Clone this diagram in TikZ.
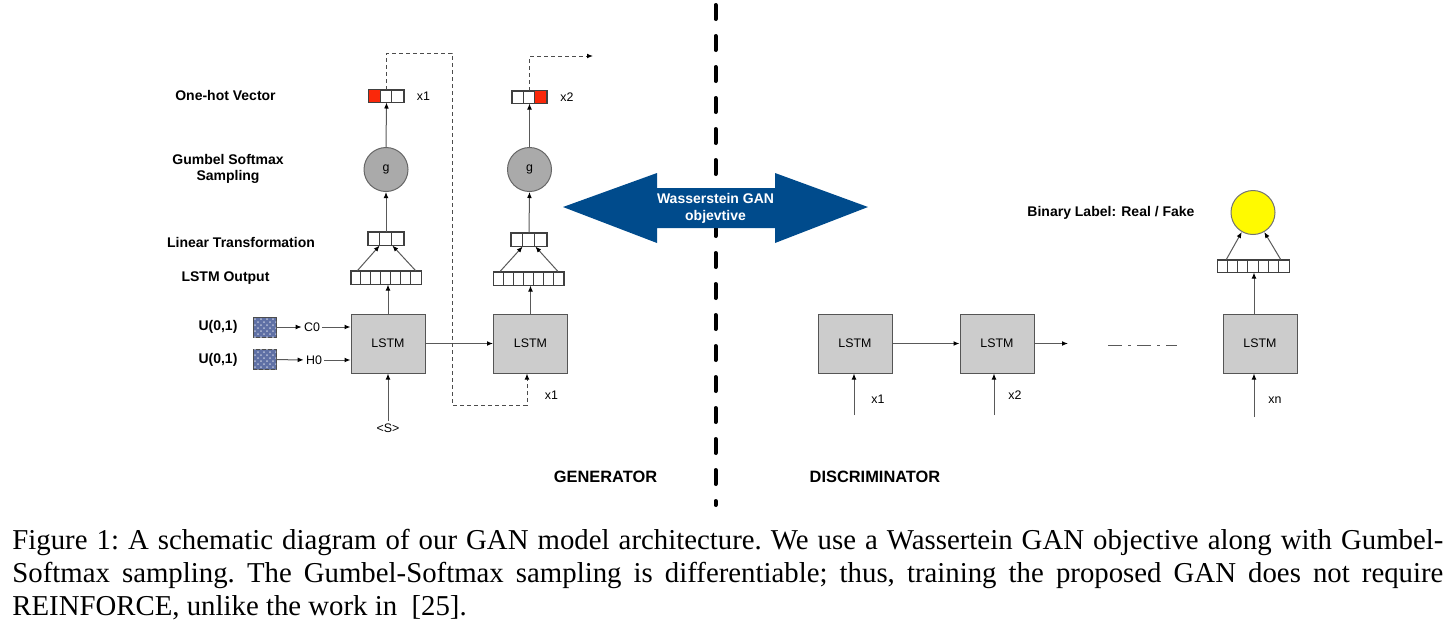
\documentclass[tikz,border=0pt]{standalone}
\usepackage{fontspec}
\setmainfont{Liberation Sans}
\newfontfamily\capfont{Liberation Serif}
\usetikzlibrary{arrows.meta,calc,patterns}
\definecolor{lstmfill}{RGB}{204,204,204}
\definecolor{lstmdraw}{RGB}{85,85,85}
\definecolor{gfill}{RGB}{170,170,170}
\definecolor{hotred}{RGB}{250,40,10}
\definecolor{wblue}{RGB}{0,75,140}
\definecolor{noisecol}{RGB}{95,112,165}
\definecolor{sunyellow}{RGB}{255,250,0}
\tikzset{
  lstmbox/.style={draw=lstmdraw, fill=lstmfill, line width=0.5pt, minimum width=37pt, minimum height=29.5pt, inner sep=0pt, font=\fontsize{6.2}{7}\selectfont},
  gnode/.style={circle, draw=black!60, fill=gfill, line width=0.5pt, minimum size=22pt, inner sep=0pt, font=\fontsize{6.2}{7}\selectfont},
  binnode/.style={circle, draw=black!55, fill=sunyellow, line width=0.5pt, minimum size=22pt, inner sep=0pt},
  lbl/.style={font=\bfseries\fontsize{7}{8.2}\selectfont, align=center, inner sep=0pt},
  biglbl/.style={font=\bfseries\fontsize{8.2}{9}\selectfont, inner sep=0pt},
  txt/.style={font=\fontsize{6.2}{7}\selectfont, inner sep=1pt},
  noise/.style={draw=black!70, fill=noisecol, line width=0.5pt, minimum width=11.5pt, minimum height=10pt, inner sep=0pt,
     postaction={pattern=crosshatch dots, pattern color=white!55!noisecol}},
  cellbox/.style={draw=black!75, fill=white, line width=0.5pt, inner sep=0pt},
  cellline/.style={draw=black!75, line width=0.5pt},
  arr/.style={-{Latex[length=3pt,width=2.4pt,color=black]}, draw=black!65, line width=0.5pt},
  fb/.style={arr, dash pattern=on 2pt off 1.5pt, draw=black!70},
}
% name, x, y, number of cells, cell width (pt), height (pt), red cell (0 = none)
\newcommand\cellvec[7]{%
  \node[cellbox, minimum width={#4*#5pt}, minimum height={#6pt}] (#1) at (#2,#3) {};
  \ifnum#7>0
    \fill[hotred] ($(#1.north west)+({(#7-1)*#5*2},0)$) rectangle ($(#1.south west)+({#7*#5*2},0)$);
  \fi
  \pgfmathtruncatemacro\cvlast{#4-1}
  \foreach \i in {1,...,\cvlast}
    \draw[cellline] ($(#1.north west)+({\i*#5*2},0)$) -- ($(#1.south west)+({\i*#5*2},0)$);
  \draw[cellline] (#1.north west) rectangle (#1.south east);
}
\begin{document}
\begin{tikzpicture}[x=0.5pt,y=-0.5pt]
\useasboundingbox (0,0) rectangle (1456,634);

% ---------- divider ----------
\coordinate (divtop) at (715.5,5);
\coordinate (divbot) at (715.5,505);
\draw[line width=2pt, line cap=round, dash pattern=on 7pt off 8.5pt] (divtop) -- (divbot);

% ---------- generator, left labels ----------
\node[lbl] (lonehot) at (225.5,95) {One-hot Vector};
\node[lbl] (lgumbel) at (228,169) {Gumbel Softmax\\Sampling};
\node[lbl] (llin) at (241,242) {Linear Transformation};
\node[lbl] (lout) at (225.5,278) {LSTM Output};
\node[lbl] (lu1) at (218,327) {U(0,1)};
\node[lbl] (lu2) at (218,360) {U(0,1)};

% ---------- generator, column 1 ----------
\node[lstmbox] (lstm1) at (388,343.5) {LSTM};
\cellvec{out1}{386}{277.5}{7}{5}{6.5}{0}
\cellvec{lin1}{386}{238.5}{3}{5.85}{6.5}{0}
\node[gnode] (g1) at (386,169.5) {g};
\cellvec{vec1}{386.5}{96}{3}{5.75}{6}{1}
\node[txt] (x1a) at (423.5,96) {x1};

\node[noise] (n1) at (264.5,327) {};
\node[noise] (n2) at (264.5,359.5) {};
\node[txt] (c0) at (312,327) {C0};
\node[txt] (h0) at (314,360) {H0};
\node[txt] (s0) at (388,428) {<S>};

\draw[arr] (n1) -- (c0);
\draw[arr] (c0) -- (c0 -| lstm1.west);
\draw[arr] (n2) -- (h0);
\draw[arr] (h0) -- (h0 -| lstm1.west);
\draw[arr] (s0.north) -- (lstm1.south);
\draw[arr] (lstm1.north) -- (lstm1.north |- out1.south);
\draw[arr] ($(out1.north west)+(7,0)$) -- ($(lin1.south west)+(11.7,0)$);
\draw[arr] ($(out1.north east)+(-6,0)$) -- ($(lin1.south east)+(-11.7,0)$);
\draw[arr] (lin1.north) -- (g1.south);
\draw[arr] (g1.north) -- (vec1.south);

% ---------- generator, column 2 ----------
\node[lstmbox] (lstm2) at (530.5,343.5) {LSTM};
\cellvec{out2}{528.5}{278.5}{7}{5}{6.5}{0}
\cellvec{lin2}{529}{239.5}{3}{5.85}{6.5}{0}
\node[gnode] (g2) at (529.5,169.5) {g};
\cellvec{vec2}{529.5}{97}{3}{5.75}{6}{3}
\node[txt] (x2a) at (567,97) {x2};
\node[txt] (x1b) at (551.5,395) {x1};

\draw[arr] (lstm1.east) -- (lstm2.west);
\draw[arr] (lstm2.north) -- (lstm2.north |- out2.south);
\draw[arr] ($(out2.north west)+(7,0)$) -- ($(lin2.south west)+(11.7,0)$);
\draw[arr] ($(out2.north east)+(-6,0)$) -- ($(lin2.south east)+(-11.7,0)$);
\draw[arr] (lin2.north) -- (g2.south);
\draw[arr] (g2.north) -- (vec2.south);

% feedback (dashed)
\coordinate (fb1) at (452,53);
\coordinate (fb2) at (452,405);
\coordinate (fb3) at (527,405);
\coordinate (fbin) at (527,373.5);
\draw[fb] (vec1.north) |- (fb1) -- (fb2) -- (fb3) -- (fbin);
\coordinate (fbend) at (593,56);
\draw[fb] (vec2.north) |- (fbend);

% ---------- Wasserstein double arrow ----------
\fill[wblue] (563,207) -- (657,173) -- (657,188) -- (775,188) -- (775,173) -- (868,207)
   -- (775,243) -- (775,228) -- (657,228) -- (657,243) -- cycle;
\node[lbl, text=white, font=\bfseries\fontsize{7}{8.4}\selectfont] (wgan) at (715.5,208) {Wasserstein GAN\\objevtive};

% ---------- discriminator ----------
\node[lstmbox] (d1) at (855,343.5) {LSTM};
\node[lstmbox] (d2) at (997,343.5) {LSTM};
\node[lstmbox] (d3) at (1260,343.5) {LSTM};
\cellvec{outd}{1253.5}{266}{7}{5.1}{6}{0}
\node[binnode] (bin) at (1253,212.5) {};
\node[lbl] (lbin) at (1111,213) {Binary Label: Real / Fake};

\coordinate (in1) at (854,415);
\coordinate (in2) at (994,415);
\coordinate (in3) at (1254,417);
\node[txt] (dx1) at (878,399) {x1};
\node[txt] (dx2) at (1015,395) {x2};
\node[txt] (dxn) at (1275,400) {xn};
\draw[arr] (in1) -- (in1 |- d1.south);
\draw[arr] (in2) -- (in2 |- d2.south);
\draw[arr] (in3) -- (in3 |- d3.south);
\draw[arr] (d1.east) -- (d2.west);
\coordinate (dend) at (1068,343.5);
\draw[arr] (d2.east) -- (dend);
\coordinate (dd1) at (1108,345);
\coordinate (dd2) at (1177,345);
\draw[draw=black!65, line width=0.5pt, dash pattern=on 7pt off 3pt on 1.5pt off 3pt] (dd1) -- (dd2);
\draw[arr] (in3 |- d3.north) -- (in3 |- outd.south);
\draw[arr] ($(outd.north west)+(9,0)$) -- (bin.-120);
\draw[arr] ($(outd.north east)+(-9,0)$) -- (bin.-60);

% ---------- section titles ----------
\node[biglbl] (gen) at (605.5,477) {GENERATOR};
\node[biglbl] (disc) at (875,477) {DISCRIMINATOR};

% ---------- caption ----------
\node[anchor=base west, inner sep=0pt, text width=715.5pt, align=justify,
      font=\capfont\fontsize{14.4}{16.5}\selectfont] (cap) at (12,549)
 {\frenchspacing\tolerance=10000\hyphenpenalty=10000
  Figure 1: A schematic diagram of our GAN model architecture. We use a Wassertein GAN objective along with Gumbel-\linebreak
  Softmax sampling. The Gumbel-Softmax sampling is differentiable; thus, training the proposed GAN does not require\linebreak
  REINFORCE, unlike the work in \ [25].};
\end{tikzpicture}
\end{document}
